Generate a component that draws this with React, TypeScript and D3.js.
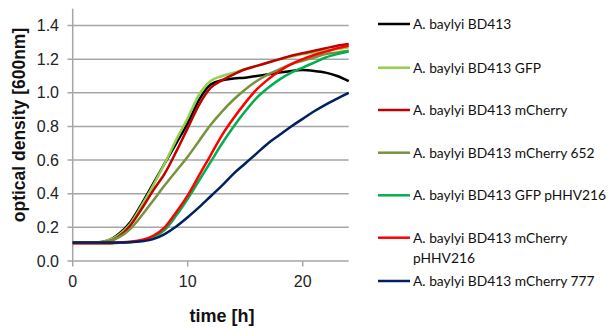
import React, { useEffect, useRef } from 'react';
import * as d3 from 'd3';

// time points [h]
const hours = [0, 1, 2, 3, 4, 5, 6, 7, 8, 9, 10, 11, 12, 13, 14, 15, 16, 17, 18, 19, 20, 21, 22, 23, 24];

const bd413 = [0.11, 0.11, 0.11, 0.12, 0.16, 0.23, 0.34, 0.46, 0.58, 0.7, 0.82, 0.96, 1.05, 1.075, 1.085, 1.09, 1.1, 1.11, 1.12, 1.13, 1.135, 1.13, 1.12, 1.1, 1.07];
const bd413Gfp = [0.11, 0.11, 0.11, 0.12, 0.155, 0.22, 0.33, 0.45, 0.58, 0.72, 0.85, 0.99, 1.07, 1.1, 1.12, 1.14, 1.16, 1.18, 1.2, 1.215, 1.23, 1.24, 1.25, 1.26, 1.27];
const bd413Cherry = [0.11, 0.11, 0.11, 0.115, 0.145, 0.21, 0.31, 0.42, 0.52, 0.65, 0.79, 0.93, 1.03, 1.075, 1.11, 1.14, 1.16, 1.18, 1.2, 1.22, 1.235, 1.25, 1.265, 1.28, 1.29];
const bd413Cherry652 = [0.11, 0.11, 0.11, 0.115, 0.14, 0.19, 0.27, 0.36, 0.45, 0.535, 0.62, 0.715, 0.81, 0.89, 0.96, 1.02, 1.07, 1.11, 1.14, 1.17, 1.19, 1.21, 1.23, 1.24, 1.25];
const bd413GfpPhhv = [0.105, 0.105, 0.105, 0.105, 0.108, 0.113, 0.12, 0.14, 0.185, 0.27, 0.37, 0.48, 0.59, 0.7, 0.8, 0.89, 0.97, 1.03, 1.08, 1.12, 1.15, 1.18, 1.21, 1.23, 1.245];
const bd413CherryPhhv = [0.105, 0.105, 0.105, 0.105, 0.11, 0.115, 0.125, 0.15, 0.2, 0.29, 0.39, 0.51, 0.63, 0.75, 0.85, 0.94, 1.02, 1.08, 1.13, 1.17, 1.2, 1.225, 1.245, 1.265, 1.28];
const bd413Cherry777 = [0.11, 0.11, 0.11, 0.11, 0.11, 0.112, 0.118, 0.13, 0.16, 0.205, 0.26, 0.32, 0.385, 0.45, 0.52, 0.58, 0.64, 0.7, 0.75, 0.8, 0.845, 0.89, 0.93, 0.965, 1.0];

const seriesNames = [
  ['A. baylyi BD413'],
  ['A. baylyi BD413 GFP'],
  ['A. baylyi BD413 mCherry'],
  ['A. baylyi BD413 mCherry 652'],
  ['A. baylyi BD413 GFP pHHV216'],
  ['A. baylyi BD413 mCherry', 'pHHV216'],
  ['A. baylyi BD413 mCherry 777'],
];
const seriesValues = [bd413, bd413Gfp, bd413Cherry, bd413Cherry652, bd413GfpPhhv, bd413CherryPhhv, bd413Cherry777];
const colors = ['#000000', '#92D050', '#C00000', '#77933C', '#00B050', '#FF0000', '#002060'];

const xTicks = [0, 10, 20];
const yTicks = [0, 0.2, 0.4, 0.6, 0.8, 1.0, 1.2, 1.4];

const App = () => {
  const svgRef = useRef<SVGSVGElement>(null);

  useEffect(() => {
    if (!svgRef.current) return;
    const svg = d3.select(svgRef.current);
    svg.selectAll('*').remove();

    const x = d3.scaleLinear().domain([0, 24]).range([72.7, 348.7]);
    const y = d3.scaleLinear().domain([0, 1.5]).range([261, 8.7]);

    // gridlines
    svg.append('g')
      .selectAll('line')
      .data(yTicks)
      .enter().append('line')
      .attr('x1', 67.5)
      .attr('x2', 348.7)
      .attr('y1', d => y(d))
      .attr('y2', d => y(d))
      .attr('stroke', '#A6A6A6')
      .attr('stroke-width', 1.5);

    // y axis line
    svg.append('line')
      .attr('x1', x(0)).attr('x2', x(0))
      .attr('y1', y(1.5)).attr('y2', y(0))
      .attr('stroke', '#A6A6A6')
      .attr('stroke-width', 1.5);

    // x ticks
    svg.append('g')
      .selectAll('line')
      .data(xTicks)
      .enter().append('line')
      .attr('x1', d => x(d)).attr('x2', d => x(d))
      .attr('y1', y(0)).attr('y2', y(0) + 5.5)
      .attr('stroke', '#A6A6A6')
      .attr('stroke-width', 1.5);

    // tick labels
    svg.append('g')
      .selectAll('text')
      .data(yTicks)
      .enter().append('text')
      .attr('x', 59)
      .attr('y', d => y(d))
      .attr('dy', '0.35em')
      .attr('text-anchor', 'end')
      .attr('font-family', 'Liberation Sans, Arial, sans-serif')
      .attr('font-size', 16)
      .attr('fill', '#222')
      .text(d => d.toFixed(1));

    svg.append('g')
      .selectAll('text')
      .data(xTicks)
      .enter().append('text')
      .attr('x', d => x(d))
      .attr('y', 287)
      .attr('text-anchor', 'middle')
      .attr('font-family', 'Liberation Sans, Arial, sans-serif')
      .attr('font-size', 16)
      .attr('fill', '#222')
      .text(d => String(d));

    // axis titles
    svg.append('text')
      .attr('x', 222)
      .attr('y', 322)
      .attr('text-anchor', 'middle')
      .attr('font-family', 'Liberation Sans, Arial, sans-serif')
      .attr('font-weight', 'bold')
      .attr('font-size', 18)
      .attr('fill', '#111')
      .text('time [h]');

    svg.append('text')
      .attr('transform', 'translate(25,125) rotate(-90)')
      .attr('text-anchor', 'middle')
      .attr('font-family', 'Liberation Sans, Arial, sans-serif')
      .attr('font-weight', 'bold')
      .attr('font-size', 17.5)
      .attr('fill', '#111')
      .text('optical density [600nm]');

    // curves
    const line = d3.line<[number, number]>()
      .x(d => x(d[0]))
      .y(d => y(d[1]))
      .curve(d3.curveMonotoneX);

    seriesValues.forEach((vals, i) => {
      const pts = hours.map((h, j) => [h, vals[j]] as [number, number]);
      svg.append('path')
        .datum(pts)
        .attr('fill', 'none')
        .attr('stroke', colors[i])
        .attr('stroke-width', 2.5)
        .attr('d', line);
    });

    // legend
    const legendY = [24, 67.7, 110, 152.7, 195.3, 237.7, 281];
    const legend = svg.append('g');
    seriesNames.forEach((lines, i) => {
      legend.append('line')
        .attr('x1', 378).attr('x2', 410)
        .attr('y1', legendY[i]).attr('y2', legendY[i])
        .attr('stroke', colors[i])
        .attr('stroke-width', 2.5);
      const t = legend.append('text')
        .attr('x', 413)
        .attr('y', legendY[i])
        .attr('font-family', 'Lato, sans-serif')
        .attr('font-size', 13.8)
        .attr('fill', '#111');
      lines.forEach((s, k) => {
        t.append('tspan')
          .attr('x', 413)
          .attr('dy', k === 0 ? '0.35em' : '1.45em')
          .text(s);
      });
    });
  }, []);

  return (
    <svg
      ref={svgRef}
      width={608}
      height={329}
      style={{ position: 'absolute', left: 0, top: 0, background: '#fff' }}
    />
  );
};

export default App;
